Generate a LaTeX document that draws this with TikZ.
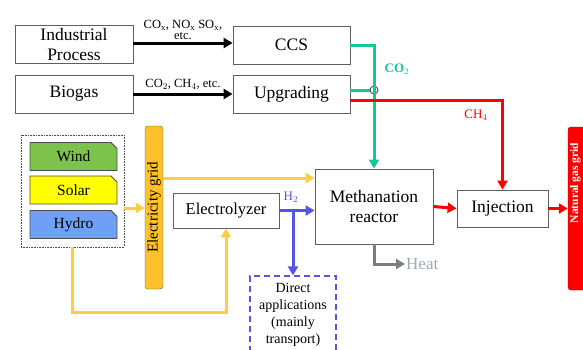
\documentclass[tikz,border=0pt]{standalone}
\usepackage{fontspec}
\setmainfont{Liberation Serif}
\usepackage{tikz}
\usetikzlibrary{arrows.meta, positioning, shapes.misc, calc}
\definecolor{co2green}{RGB}{20,200,150}
\definecolor{ch4red}{RGB}{255,0,0}
\definecolor{htwoblue}{RGB}{85,85,225}
\definecolor{elecyellow}{RGB}{255,204,70}
\definecolor{gridorange}{RGB}{255,192,40}
\definecolor{windgreen}{RGB}{125,195,75}
\definecolor{solaryellow}{RGB}{255,255,0}
\definecolor{hydroblue}{RGB}{110,160,245}
\definecolor{heatgray}{RGB}{125,125,125}
\definecolor{heattext}{RGB}{160,168,178}
\definecolor{boxgray}{RGB}{95,95,95}

\begin{document}
\begin{tikzpicture}[
  x=1pt, y=-1pt,
  procbox/.style={rectangle, draw=boxgray, fill=white, line width=0.8pt,
                  font=\fontsize{17.5}{20}\selectfont, align=center, inner sep=2pt},
  srcbox/.style={chamfered rectangle, chamfered rectangle corners=north east,
                 chamfered rectangle xsep=3pt, chamfered rectangle ysep=3pt,
                 draw=boxgray!80!black, line width=0.8pt,
                 minimum width=87pt, minimum height=28pt,
                 font=\fontsize{15.5}{17}\selectfont, inner sep=0pt},
  gridbar/.style={rectangle, rounded corners=3pt, rotate=90, align=center,
                  minimum height=18pt, minimum width=163pt, inner sep=0pt},
  junction/.style={circle, draw=black!80, fill=white, line width=0.8pt,
                   minimum size=8pt, inner sep=0pt},
  flow/.style={-{Triangle[length=9pt, width=10pt]}, line width=3pt},
  feed/.style={flow, black},
  co2/.style={flow, co2green},
  ch4/.style={flow, ch4red},
  htwo/.style={flow, htwoblue},
  elec/.style={flow, elecyellow},
  heatflow/.style={flow, heatgray},
  gaslabel/.style={font=\fontsize{12.5}{13}\selectfont, align=center, inner sep=1pt},
]
\useasboundingbox (0,0) rectangle (583,349);

% Sources
\node[procbox, minimum width=118pt, minimum height=38pt] (ind) at (74,44.5) {Industrial\\Process};
\node[procbox, minimum width=118pt, minimum height=38pt] (bio) at (74,94) {Biogas};

% Treatment
\node[procbox, minimum width=117pt, minimum height=38pt] (ccs) at (291.5,45) {CCS};
\node[procbox, minimum width=117pt, minimum height=38pt] (upg) at (291.5,94) {Upgrading};

% Renewables
\node[rectangle, draw=black!70, densely dotted, line width=0.6pt,
      minimum width=103pt, minimum height=112pt] (renew) at (72.5,191) {};
\node[srcbox, fill=windgreen] (wind) at (73.5,156.5) {Wind};
\node[srcbox, fill=solaryellow] (solar) at (73.5,190) {Solar};
\node[srcbox, fill=hydroblue] (hydro) at (73.5,224.5) {Hydro};
\node[gridbar, draw=boxgray, fill=gridorange, font=\fontsize{15}{16}\selectfont] (egrid) at (154,207.5) {Electricity grid};

% Conversion
\node[procbox, minimum width=106pt, minimum height=35pt, font=\fontsize{16.5}{18}\selectfont] (elz) at (226,210.5) {Electrolyzer};
\node[procbox, minimum width=118pt, minimum height=75pt] (meth) at (374,206.5) {Methanation\\reactor};
\node[procbox, minimum width=91pt, minimum height=37pt] (inj) at (502.5,208.5) {Injection};
\node[gridbar, draw=red!60!black, fill=ch4red, minimum height=20pt] (ngrid) at (578,208.5) {};
\node[rotate=90, text=white, inner sep=0pt,
      font=\fontsize{11.5}{12}\selectfont\bfseries] (ngtext) at (575.5,183) {Natural gas grid};
\node[rectangle, draw=htwoblue, dashed, dash pattern=on 6pt off 4pt, line width=1.2pt,
      minimum width=86pt, minimum height=78pt, align=center,
      font=\fontsize{14}{17}\selectfont] (direct) at (293,315) {Direct\\applications\\(mainly\\transport)};
\node[anchor=west, text=heattext, font=\fontsize{17}{18}\selectfont, inner sep=1pt] (heat) at (405,264) {Heat};

% Feed streams
\draw[feed] (ind.east |- 0,43) -- node[gaslabel, above=1pt] {CO$_{\mathrm{x}}$, NO$_{\mathrm{x}}$ SO$_{\mathrm{x}}$,\\[-2pt] etc.} (ccs.west |- 0,43);
\draw[feed] (bio.east) -- node[gaslabel, above=2pt] {CO$_2$, CH$_4$, etc.} (upg.west);

% CO2 to methanation
\node[junction] (jn) at (meth.north |- 0,90) {};
\draw[co2] (ccs.east) -| (meth.north);
\draw[co2, -] (upg.east |- jn) -- (jn.west);
\node[text=co2green, font=\fontsize{13}{14}\selectfont\bfseries] (co2lbl) at (397,69) {CO$_2$};

% CH4 bypass to injection
\draw[ch4] (upg.east |- 0,100) -| (inj.north);
\node[text=ch4red, font=\fontsize{13}{14}\selectfont] (ch4lbl) at (476,115) {CH$_4$};

% Power
\coordinate (rin) at (renew.east |- 0,208);
\draw[elec] (rin) -- (rin -| egrid.north);
\coordinate (min) at (meth.west |- 0,178);
\draw[elec] (min -| egrid.south) -- (min);
\coordinate (bend) at (elz.south |- 0,312);
\draw[elec] (renew.south) |- (bend) -- (elz.south);

% Hydrogen
\draw[htwo] (elz.east) -- (elz.east -| meth.west);
\node[text=htwoblue, font=\fontsize{13}{14}\selectfont] (h2lbl) at (291,197) {H$_2$};
\draw[htwo] (elz.east -| direct.north) -- (direct.north);

% Products
\draw[heatflow] (meth.south) |- (heat.west);
\draw[ch4] (meth.east) -- (inj.west);
\draw[ch4] (inj.east) -- (inj.east -| ngrid.north);

\end{tikzpicture}
\end{document}
